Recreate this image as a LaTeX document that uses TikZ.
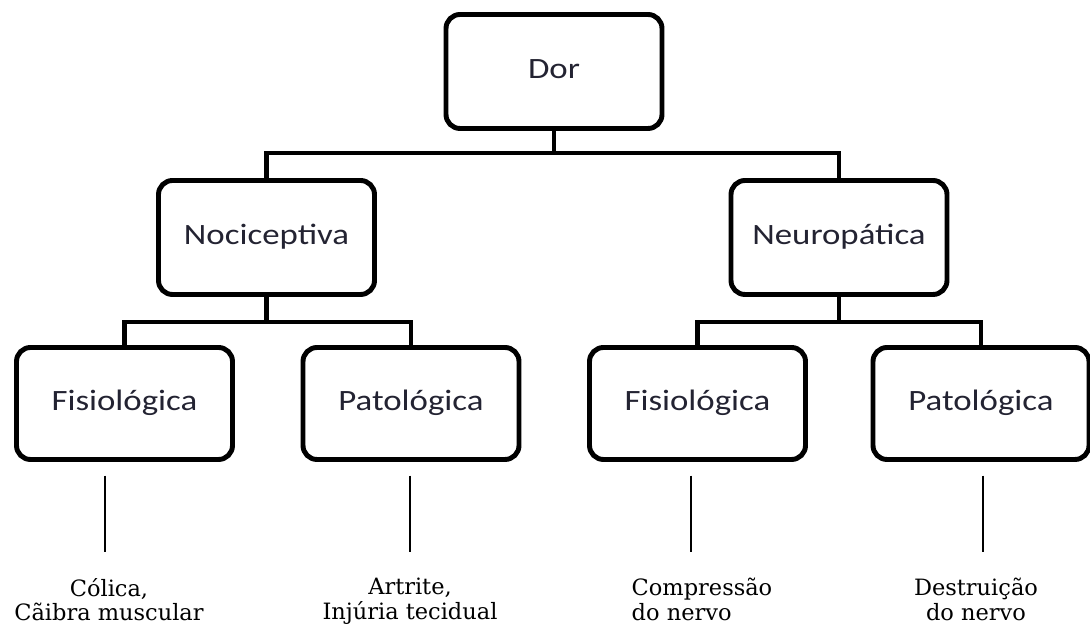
\documentclass[tikz,border=0pt]{standalone}
\usepackage{fontspec}
\setmainfont{DejaVu Serif}
\newfontfamily\boxfont{Carlito}[FakeStretch=1.18]
\definecolor{boxtext}{RGB}{35,35,50}
\tikzset{
  box/.style={draw, line width=3.5pt, rounded corners=0.35cm,
    minimum width=5.4cm, minimum height=2.85cm,
    text height=13.5pt, text depth=4pt, text=boxtext,
    font=\boxfont\fontsize{21}{25}\selectfont},
  leaf/.style={box, minimum height=2.8cm},
  link/.style={line width=3pt},
  leafline/.style={line width=0.9pt},
  example/.style={anchor=north, inner sep=0pt, align=center,
    font=\fontsize{16}{17.5}\selectfont}
}
\begin{document}
\begin{tikzpicture}
    \useasboundingbox (0,0) rectangle (27.25,15.65);
    % boxes
    \node[box] (dor) at (13.85,13.8625) {Dor};
    \node[box] (noci) at (6.6625,9.7125) {Nociceptiva};
    \node[box] (neuro) at (20.975,9.7125) {Neuropática};
    \node[leaf] (fis1) at (3.1125,5.5625) {Fisiológica};
    \node[leaf] (pat1) at (10.275,5.5625) {Patológica};
    \node[leaf] (fis2) at (17.4375,5.5625) {Fisiológica};
    \node[leaf] (pat2) at (24.525,5.5625) {Patológica};
    % examples
    \node[example] (ex1) at (2.725,1.2) {Cólica,\\Cãibra muscular};
    \node[example] (ex2) at (10.25,1.2) {Artrite,\\Injúria tecidual};
    \node[example, align=left] (ex3) at (17.55,1.2) {Compressão\\do nervo};
    \node[example] (ex4) at (24.4,1.2) {Destruição\\do nervo};
    % branches
    \coordinate (j1) at (13.85,11.825);
    \coordinate (j2) at (6.6625,7.6);
    \coordinate (j3) at (20.975,7.6);
    \draw[link] (dor) -- (j1);
    \draw[link] (noci.north) |- (j1) -| (neuro.north);
    \draw[link] (noci) -- (j2);
    \draw[link] (fis1.north) |- (j2) -| (pat1.north);
    \draw[link] (neuro) -- (j3);
    \draw[link] (fis2.north) |- (j3) -| (pat2.north);
    % thin lines down to the examples
    \draw[leafline] ([xshift=-0.1cm,yshift=-0.34cm]fis1.south -| ex1.north) -- ([xshift=-0.1cm,yshift=0.65cm]ex1.north);
    \draw[leafline] ([yshift=-0.34cm]pat1.south -| ex2.north) -- ([yshift=0.65cm]ex2.north);
    \draw[leafline] ([xshift=-0.275cm,yshift=-0.34cm]fis2.south -| ex3.north) -- ([xshift=-0.275cm,yshift=0.65cm]ex3.north);
    \draw[leafline] ([xshift=0.175cm,yshift=-0.34cm]pat2.south -| ex4.north) -- ([xshift=0.175cm,yshift=0.65cm]ex4.north);
  \end{tikzpicture}
\end{document}
